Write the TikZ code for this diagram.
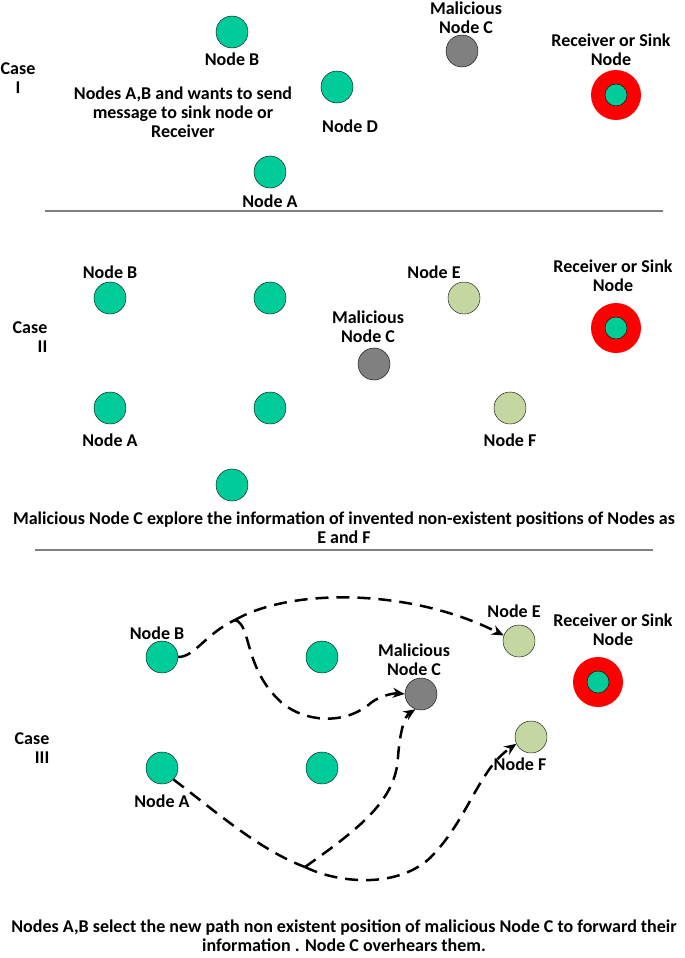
\documentclass[tikz,border=0pt]{standalone}
\usepackage{fontspec}
\setmainfont{Carlito}
\usetikzlibrary{arrows.meta}
\definecolor{nodegreen}{RGB}{0,204,153}
\definecolor{fakegreen}{RGB}{196,215,160}
\definecolor{spygrey}{RGB}{128,128,128}
\begin{document}
\begin{tikzpicture}[x=1pt,y=-1pt,
  font=\bfseries\fontsize{18}{19}\selectfont,
  sensor/.style={circle, draw=black, fill=nodegreen, minimum size=32pt, inner sep=0pt},
  fakenode/.style={sensor, fill=fakegreen},
  spynode/.style={sensor, fill=spygrey},
  sinknode/.style={circle, fill=red, minimum size=50pt, inner sep=0pt},
  sinkcore/.style={sensor, minimum size=22pt},
  lbl/.style={align=center, inner sep=0pt},
  route/.style={line width=2.5pt, dash pattern=on 13pt off 8pt},
  routetip/.style={route, -{Stealth[length=12pt,width=10pt]}}]
\useasboundingbox (0,0) rectangle (685,958);
% ---------- case I
\node[lbl] (case1) at (18,78) {Case\\I};
\node[sensor] (nodeB1) at (232,32) {};
\node[lbl] (labB1) at (232,59) {Node B};
\node[lbl] (labC1) at (466,18) {Malicious\\Node C};
\node[spynode] (malC1) at (462,51) {};
\node[lbl] (labS1) at (611,50) {Receiver or Sink\\Node};
\node[sinknode] (sink1) at (616,95) {};
\node[sinkcore] at (sink1) {};
\node[lbl] (msg1) at (183,112) {Nodes A,B and wants to send\\message to sink node or\\Receiver};
\node[sensor] (nodeD1) at (337,87) {};
\node[lbl] (labD1) at (350,126) {Node D};
\node[sensor] (nodeA1) at (270,172) {};
\node[lbl] (labA1) at (270,201) {Node A};
\draw[spygrey, line width=1.2pt] (45,211) -- (663,211);
% ---------- case II
\node[lbl, align=right] (case2) at (30,337) {Case\\II};
\node[lbl] (labB2) at (110,272) {Node B};
\node[sensor] (nodeB2) at (110,298) {};
\node[sensor] (mid2a) at (270,298) {};
\node[lbl] (labE2) at (434,272) {Node E};
\node[fakenode] (nodeE2) at (464,298) {};
\node[lbl] (labS2) at (613,276) {Receiver or Sink\\Node};
\node[sinknode] (sink2) at (616,328) {};
\node[sinkcore] at (sink2) {};
\node[lbl] (labC2) at (368,327) {Malicious\\Node C};
\node[spynode] (malC2) at (374,364) {};
\node[sensor] (nodeA2) at (110,408) {};
\node[lbl] (labA2) at (110,440) {Node A};
\node[sensor] (mid2b) at (270,408) {};
\node[fakenode] (nodeF2) at (510,408) {};
\node[lbl] (labF2) at (510,440) {Node F};
\node[sensor] (low2) at (232,485) {};
\node[lbl] (msg2) at (344,528) {Malicious Node C explore the information of invented non-existent positions of Nodes as\\E and F};
\draw[spygrey, line width=1.2pt] (35,550) -- (653,550);
% ---------- case III
\node[lbl] (labB3) at (157,633) {Node B};
\node[sensor] (nodeB3) at (162,657) {};
\node[sensor] (mid3a) at (322,657) {};
\node[lbl] (labC3) at (414,660) {Malicious\\Node C};
\node[spynode] (malC3) at (421,694) {};
\node[lbl] (labE3) at (514,611) {Node E};
\node[fakenode] (nodeE3) at (519,641) {};
\node[lbl] (labS3) at (613,630) {Receiver or Sink\\Node};
\node[sinknode] (sink3) at (598,682) {};
\node[sinkcore] at (sink3) {};
\node[lbl, align=right] (case3) at (32,748) {Case\\III};
\node[fakenode] (nodeF3) at (531,737) {};
\node[lbl] (labF3) at (520,764) {Node F};
\node[sensor] (nodeA3) at (162,768) {};
\node[lbl] (labA3) at (162,801) {Node A};
\node[sensor] (mid3b) at (322,768) {};
\coordinate (splitB) at (235,620);
\coordinate (splitA) at (305,867);
\draw[route] (nodeB3.east) .. controls (195,657) and (205,634) .. (splitB);
\draw[routetip] (splitB) .. controls (290,588) and (410,588) .. (nodeE3.160);
\draw[routetip] (splitB) .. controls (252,625) and (243,668) .. (282,703)
  .. controls (305,722) and (345,726) .. (372,702)
  .. controls (382,695) and (395,693) .. (malC3.west);
\draw[route] (nodeA3.-45) .. controls (220,815) and (260,850) .. (splitA);
\draw[routetip] (splitA) .. controls (360,828) and (396,800) .. (398,757)
  .. controls (400,730) and (405,716) .. (malC3.250);
\draw[routetip] (splitA) .. controls (335,882) and (395,890) .. (430,858)
  .. controls (468,820) and (478,770) .. (nodeF3.205);
\node[lbl] (msg3) at (344,936) {Nodes A,B select the new path non existent position of malicious Node C to forward their\\information . Node C overhears them.};
\end{tikzpicture}
\end{document}
